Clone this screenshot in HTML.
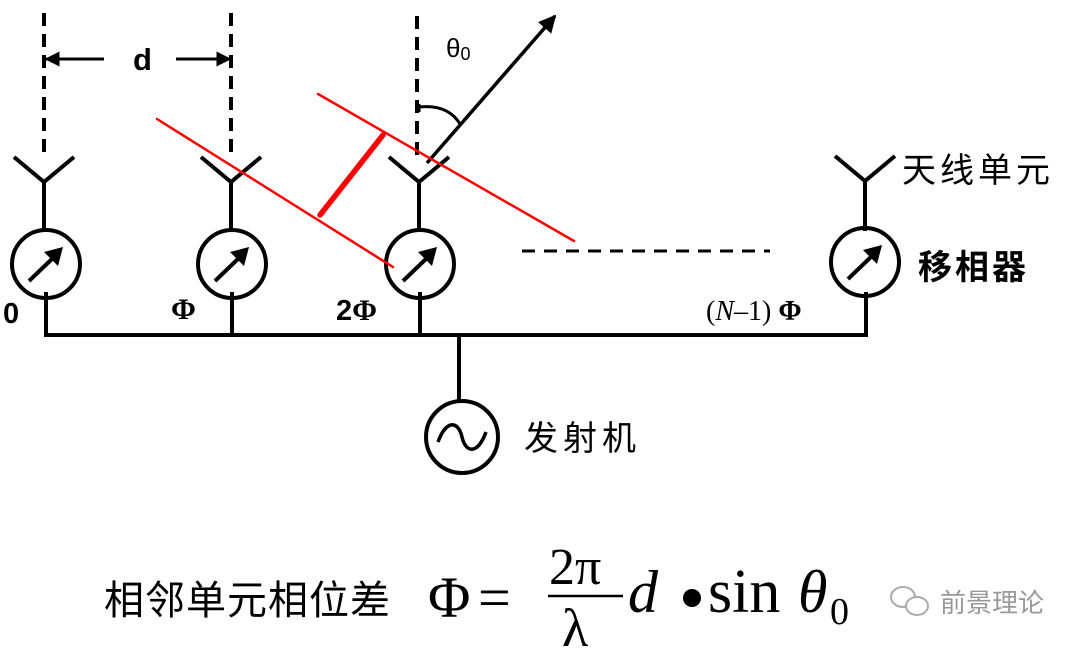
<!DOCTYPE html>
<html><head><meta charset="utf-8"><style>
html,body{margin:0;padding:0;background:#fff;}
svg{display:block;}
</style></head><body>
<svg width="1080" height="651" viewBox="0 0 1080 651" xmlns="http://www.w3.org/2000/svg">
<defs>
<marker id="ah" viewBox="0 0 10 10" refX="9" refY="5" markerWidth="6" markerHeight="5" markerUnits="strokeWidth" orient="auto-start-reverse"><path d="M0,0 L10,5 L0,10 z" fill="#000"/></marker>
<g id="ps">
<circle cx="0" cy="0" r="34" fill="none" stroke="#000" stroke-width="4"/>
<line x1="-17" y1="17" x2="8" y2="-7" stroke="#000" stroke-width="4"/>
<path d="M17,-17 L-2,-12 L12,2 z" fill="#000"/>
</g>
<g id="ant">
<path d="M-30,-25 L0,0 L30,-25" fill="none" stroke="#000" stroke-width="4"/>
<line x1="0" y1="0" x2="0" y2="50" stroke="#000" stroke-width="4"/>
</g>
</defs>
<g stroke="#000" stroke-width="4" fill="none">
<line x1="44" y1="13" x2="44" y2="157" stroke-dasharray="13,8"/>
<line x1="231" y1="13" x2="231" y2="157" stroke-dasharray="13,8"/>
<line x1="417" y1="16" x2="417" y2="160" stroke-dasharray="13,8"/>
<polyline points="46,292 46,335 866,335 866,292"/>
<line x1="232" y1="292" x2="232" y2="335"/>
<line x1="420" y1="292" x2="420" y2="335"/>
<line x1="459" y1="335" x2="459" y2="402"/>
<line x1="522" y1="251" x2="770" y2="251" stroke-dasharray="13,9" stroke-width="3"/>
<line x1="46" y1="59" x2="104" y2="59" stroke-width="3" marker-start="url(#ah)"/>
<line x1="176" y1="59" x2="230" y2="59" stroke-width="3" marker-end="url(#ah)"/>
<line x1="427" y1="163" x2="555" y2="16" stroke-width="3.5" marker-end="url(#ah)"/>
<path d="M419,107 Q448,104 460,124" stroke-width="3"/>
<line x1="419" y1="104" x2="419" y2="112" stroke-width="3"/>
</g>
<use href="#ant" x="44" y="182"/>
<use href="#ant" x="231" y="182"/>
<use href="#ant" x="419" y="182"/>
<use href="#ant" x="865" y="181"/>
<use href="#ps" x="46" y="264"/>
<use href="#ps" x="232" y="264"/>
<use href="#ps" x="420" y="264"/>
<use href="#ps" x="865" y="262"/>
<circle cx="462" cy="437" r="36" fill="none" stroke="#000" stroke-width="4"/>
<path d="M438,442 C446,420 458,420 462,437 C466,454 478,454 486,432" fill="none" stroke="#000" stroke-width="3.5"/>
<g stroke="#f00" stroke-linecap="round">
<line x1="157" y1="119" x2="393" y2="267" stroke-width="2.5"/>
<line x1="318" y1="94" x2="574" y2="241" stroke-width="2.5"/>
<line x1="320" y1="215" x2="383" y2="135" stroke-width="5.5"/>
</g>
<g font-family="Liberation Sans, sans-serif" font-weight="bold" fill="#000">
<text x="133" y="70" font-size="31">d</text>
<text x="3" y="323" font-size="29">0</text>
<text x="171" y="319" font-size="30" font-family="Liberation Serif, serif">Φ</text>
<text x="336" y="320" font-size="29">2<tspan font-family="Liberation Serif, serif" font-size="30">Φ</tspan></text>
</g>
<text x="446" y="57" font-family="Liberation Sans, sans-serif" font-size="26">θ<tspan font-size="18" dy="3">0</tspan></text>
<text x="706" y="320" font-family="Liberation Serif, serif" font-size="28">(<tspan font-style="italic">N</tspan>–1) <tspan font-weight="bold">Φ</tspan></text>
<g font-family="Liberation Sans, 'Noto Sans CJK SC', sans-serif" fill="#000">
<text x="902" y="182" font-size="34" letter-spacing="4">天线单元</text>
<text x="918" y="279" font-size="34" font-weight="bold" letter-spacing="3">移相器</text>
<text x="524" y="450" font-size="34" letter-spacing="5">发射机</text>
<text x="104" y="614" font-size="40" letter-spacing="1">相邻单元相位差</text>
<text x="940" y="612" font-size="26" fill="#999">前景理论</text>
</g>
<g font-family="Liberation Serif, serif" fill="#000">
<text x="428" y="617" font-size="58">Φ</text>
<text x="478" y="617" font-size="58">=</text>
<line x1="548" y1="596" x2="623" y2="596" stroke="#000" stroke-width="2.5"/>
<text x="549" y="584" font-size="52">2π</text>
<text x="562" y="646" font-size="54">λ</text>
<text x="628" y="612" font-size="60" font-style="italic">d</text>
<circle cx="692" cy="598" r="9" fill="#000"/>
<text x="708" y="612" font-size="62">sin</text>
<text x="798" y="612" font-size="60" font-style="italic">θ</text>
<text x="830" y="624" font-size="38">0</text>
</g>
<g fill="none" stroke="#aaa" stroke-width="2">
<ellipse cx="903" cy="597" rx="12" ry="10"/>
<ellipse cx="917" cy="606" rx="11" ry="9" fill="#fff"/>
</g>
</svg>
</body></html>
